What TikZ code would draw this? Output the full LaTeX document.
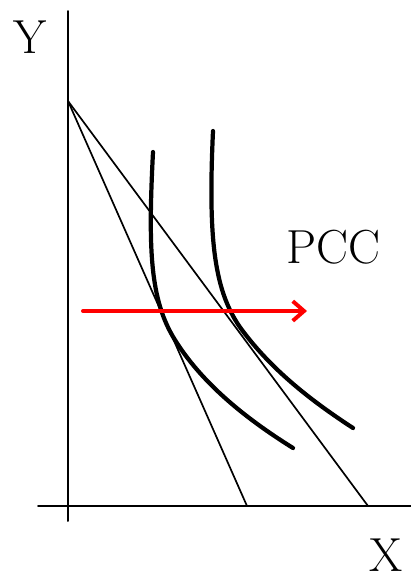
\documentclass[tikz,border=0pt]{standalone}
\usetikzlibrary{arrows.meta}
\begin{document}
\begin{tikzpicture}[line cap=round, line join=round, >=stealth, x=0.25mm, y=-0.25mm,
	big/.style={font=\fontsize{34}{38}\selectfont, inner sep=0pt},
	curve/.style={line width=3pt}]
	
	\useasboundingbox (0,0) rectangle (411,578);
	
	% Axes
	\coordinate (O) at (68,506);
	\coordinate (ytop) at (68,11);
	\coordinate (ybot) at (68,521);
	\coordinate (xleft) at (38,506);
	\coordinate (xright) at (411,506);
	\draw[line width=1.4pt] (ybot) -- (ytop);
	\draw[line width=1.4pt] (xleft) -- (xright);
	\node[big] (ylab) at (30,37) {Y};
	\node[big] (xlab) at (386,555) {X};
	
	% Budget lines
	\coordinate (A) at (68,101);
	\coordinate (B1) at (247,506);
	\coordinate (B2) at (368,506);
	\draw[line width=1.2pt] (A) -- (B1);
	\draw[line width=1.2pt] (A) -- (B2);
	
	% Indifference curves
	\draw[curve] (153,152) .. controls (148,250) and (150,300) .. (175,340)
		.. controls (200,380) and (240,415) .. (293,448);
	\draw[curve] (213,131) .. controls (208,240) and (214,292) .. (242,330)
		.. controls (272,370) and (310,400) .. (353,428);
	
	% PCC arrow
	\coordinate (r1) at (83,311);
	\coordinate (r2) at (307,311);
	\draw[red, line width=2.8pt, -{Straight Barb[length=8pt,width=14pt]}] (r1) -- (r2);
	\node[big] (pcc) at (333,247) {PCC};
	
\end{tikzpicture}
\end{document}
